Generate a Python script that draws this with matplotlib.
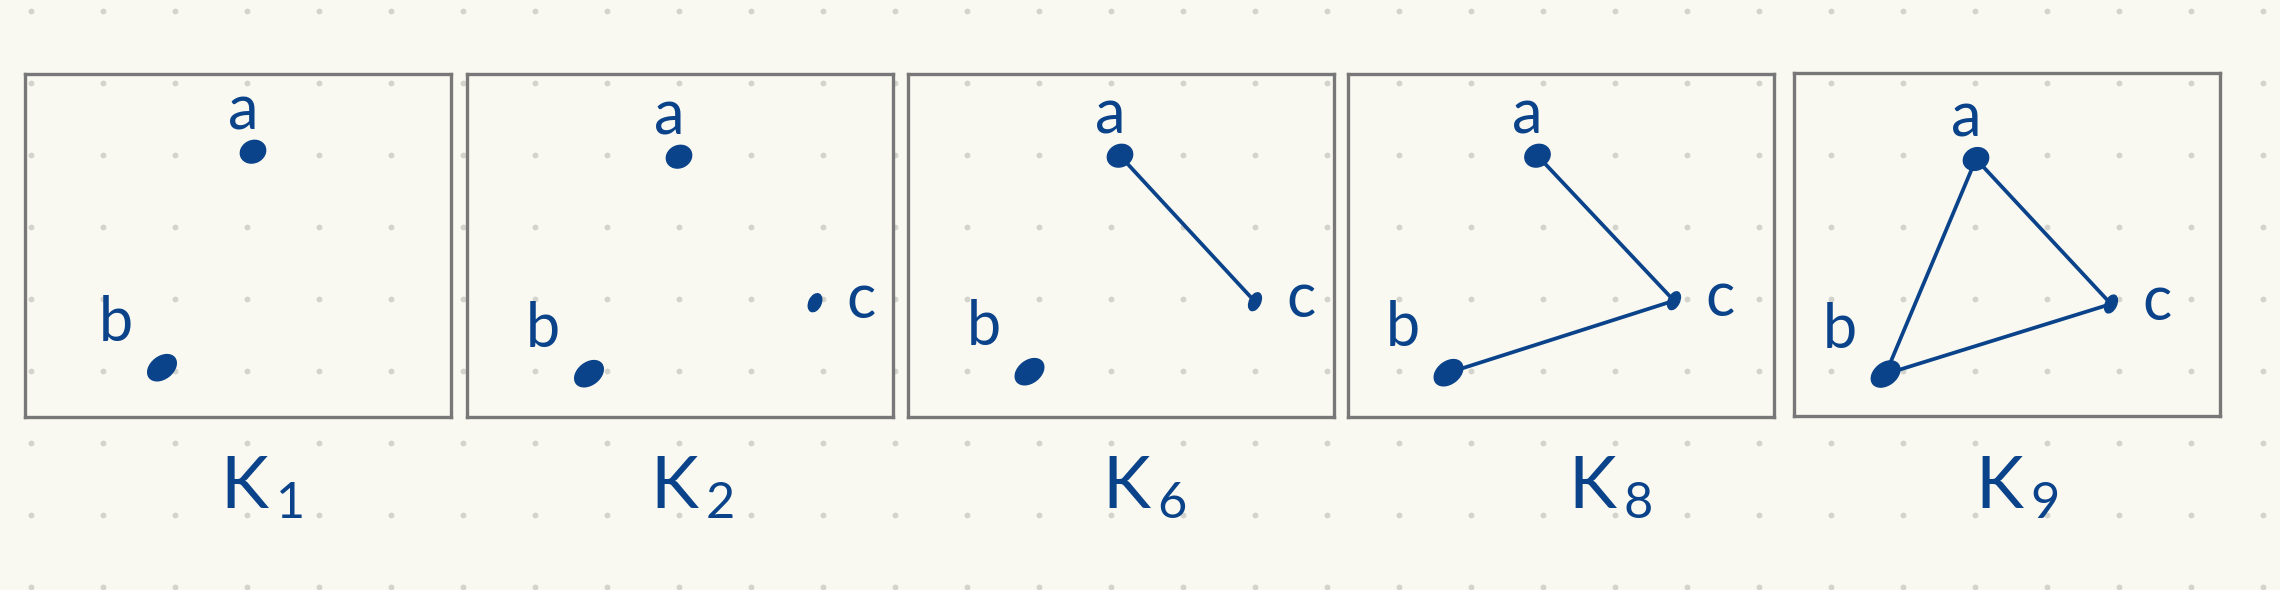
import matplotlib
matplotlib.use("Agg")
import matplotlib.pyplot as plt
from matplotlib.patches import Ellipse
import numpy as np

# ---------------- data ----------------
panel_index = ["1", "2", "6", "8", "9"]          # subscripts of K
node_names = ["a", "b", "c"]
# node positions inside each panel (px from panel's top-left corner)
a_x = [228, 212, 212, 189.5, 182]
a_y = [78, 83, 82, 82, 86.5]
b_x = [137, 122, 121.5, 100.5, 91.6]
b_y = [294, 300, 298, 299, 301.5]
c_x = [None, 348, 347, 326, 317]
c_y = [None, 229, 228, 227, 231.5]
edges = [
    [],
    [],
    [("a", "c")],
    [("a", "c"), ("b", "c")],
    [("a", "c"), ("b", "c"), ("a", "b")],
]

# ---------------- layout / style ----------------
W, H = 2280, 590
DPI = 100
BG = "#f9f9f1"
GRID_DOT = "#d4d4ce"
BOX = "#787878"
INK = "#0b438a"
box_left = [25, 467, 908, 1348, 1794]
box_top = [73.7, 73.7, 73.7, 73.7, 72.5]
BOX_W, BOX_H = 426, 343
k_left = [194.5, 183, 194, 220, 181]
K_BASE = 508

plt.rcParams["mathtext.fontset"] = "custom"
plt.rcParams["mathtext.rm"] = "Lato"
plt.rcParams["mathtext.it"] = "Lato"
FONT = ["Lato", "DejaVu Sans"]

fig = plt.figure(figsize=(W / DPI, H / DPI), dpi=DPI, facecolor=BG)
bg = fig.add_axes([0, 0, 1, 1])
bg.set_xlim(0, W)
bg.set_ylim(H, 0)
bg.axis("off")
bg.set_facecolor(BG)
gx, gy = np.meshgrid(30.7 + 72 * np.arange(32), 10.7 + 72 * np.arange(9))
bg.scatter(gx.ravel(), gy.ravel(), s=18, color=GRID_DOT, linewidths=0, zorder=0)

node_shape = {"a": (26, 22, -25), "b": (32, 22, -38), "c": (11, 19, 25)}

for i, idx in enumerate(panel_index):
    ax = fig.add_axes([box_left[i] / W, 1 - (box_top[i] + BOX_H) / H, BOX_W / W, BOX_H / H])
    ax.set_xlim(0, BOX_W)
    ax.set_ylim(BOX_H, 0)
    ax.patch.set_alpha(0)
    ax.set_xticks([])
    ax.set_yticks([])
    for sp in ax.spines.values():
        sp.set_color(BOX)
        sp.set_linewidth(2.4)

    pos = {"a": (a_x[i], a_y[i]), "b": (b_x[i], b_y[i])}
    if c_x[i] is not None:
        pos["c"] = (c_x[i], c_y[i])

    for u, v in edges[i]:
        ax.plot([pos[u][0], pos[v][0]], [pos[u][1], pos[v][1]],
                color=INK, lw=2.7, solid_capstyle="round", zorder=2)

    for name, (x, y) in pos.items():
        w, h, ang = node_shape[name]
        if name == "c" and i == 1:
            w, h = 12, 19
        ax.add_patch(Ellipse((x, y), w, h, angle=ang, color=INK, zorder=3))

    lab_off = {"a": (-10, -40), "b": (-46, -44), "c": (46, -2)}
    for name, (x, y) in pos.items():
        dx, dy = lab_off[name]
        ax.text(x + dx, y + dy, name, ha="center", va="center", fontsize=44,
                color=INK, family=FONT, fontweight="normal")

    bg.text(box_left[i] + k_left[i], K_BASE, "K$_{\\,\\mathrm{%s}}$" % idx,
            ha="left", va="baseline", fontsize=52, color=INK, family=FONT,
            fontweight="normal")

fig.savefig("out.png", dpi=DPI, facecolor=BG)
